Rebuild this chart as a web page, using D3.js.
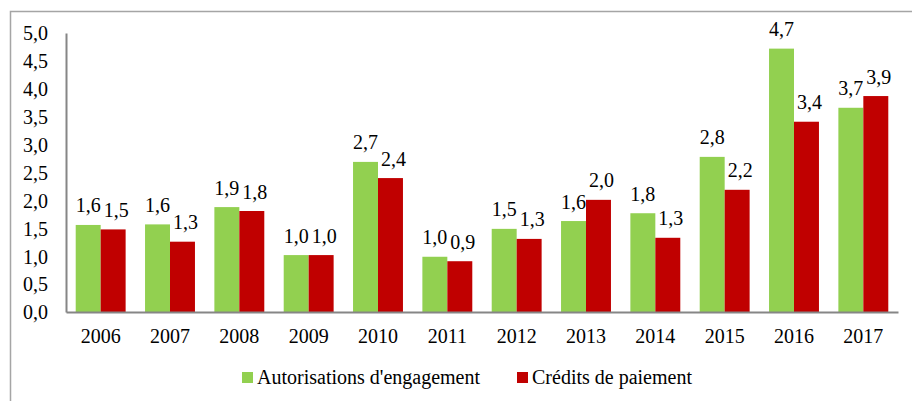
<!DOCTYPE html>
<html>
<head>
<meta charset="utf-8">
<title>Autorisations d'engagement et crédits de paiement</title>
<style>
  body { margin: 0; background: #fff; }
  svg text { font-family: "Liberation Serif", "Times New Roman", serif; fill: #000; }
</style>
<script src="https://cdn.jsdelivr.net/npm/d3@7/dist/d3.min.js"></script>
</head>
<body>
<svg id="chart" width="912" height="401"></svg>
<script>
// data
var years = ['2006', '2007', '2008', '2009', '2010', '2011', '2012', '2013', '2014', '2015', '2016', '2017'];
var autorisations = [1.56, 1.57, 1.88, 1.02, 2.69, 0.99, 1.49, 1.63, 1.77, 2.78, 4.72, 3.66];
var credits = [1.48, 1.26, 1.81, 1.02, 2.40, 0.91, 1.31, 2.01, 1.33, 2.19, 3.41, 3.87];
var yTicks = [0, 0.5, 1, 1.5, 2, 2.5, 3, 3.5, 4, 4.5, 5];
var seriesNames = ["Autorisations d'engagement", 'Crédits de paiement'];
var colors = ['#92d050', '#c00000'];

var svg = d3.select('#chart');
var fmt = function(v) { return d3.format('.1f')(v).replace('.', ','); };

// outer frame (only top and left edges are visible)
svg.append('path')
  .attr('d', 'M10.5,401 V11.5 H912')
  .attr('fill', 'none')
  .attr('stroke', '#a5a5a5')
  .attr('stroke-width', 1.5);

var plotLeft = 66, plotRight = 898, plotTop = 33, plotBottom = 312;

var x = d3.scaleBand().domain(years).range([plotLeft, plotRight]).paddingInner(0.28).paddingOuter(0.14);
var xs = d3.scaleBand().domain([0, 1]).range([0, x.bandwidth()]);
var y = d3.scaleLinear().domain([0, 5]).range([plotBottom, plotTop]);

var series = [autorisations, credits];
var labelShift = [0, 3]; // red labels sit a little right of their bars

// bars
series.forEach(function(vals, s) {
  svg.append('g').selectAll('rect')
    .data(vals)
    .enter().append('rect')
    .attr('x', function(d, i) { return x(years[i]) + xs(s); })
    .attr('width', xs.bandwidth())
    .attr('y', function(d) { return y(d); })
    .attr('height', function(d) { return y(0) - y(d); })
    .attr('fill', colors[s]);
});

// value labels
series.forEach(function(vals, s) {
  svg.append('g').selectAll('text')
    .data(vals)
    .enter().append('text')
    .attr('x', function(d, i) { return x(years[i]) + xs(s) + xs.bandwidth() / 2 + labelShift[s]; })
    .attr('y', function(d) { return y(d) - 12.5; })
    .attr('text-anchor', 'middle')
    .style('font-size', '20px')
    .text(function(d) { return fmt(d); });
});

// y axis
var yAxis = svg.append('g')
  .attr('transform', 'translate(' + plotLeft + ',0)')
  .call(d3.axisLeft(y).tickValues(yTicks).tickSize(0).tickPadding(18).tickFormat(fmt));
yAxis.select('.domain').attr('stroke', '#868686').attr('stroke-width', 2);
yAxis.selectAll('text').style('font-size', '20px').attr('dy', '0.34em');

// x axis
var xAxis = svg.append('g')
  .attr('transform', 'translate(0,' + plotBottom + ')')
  .call(d3.axisBottom(x).tickSize(0).tickPadding(17));
xAxis.select('.domain').attr('stroke', '#868686').attr('stroke-width', 2);
xAxis.selectAll('text').style('font-size', '20px');

// legend
var legendX = [242, 517];
var legend = svg.append('g');
seriesNames.forEach(function(name, s) {
  legend.append('rect')
    .attr('x', legendX[s]).attr('y', 372)
    .attr('width', 11).attr('height', 11)
    .attr('fill', colors[s]);
  legend.append('text')
    .attr('x', legendX[s] + 15).attr('y', 384)
    .style('font-size', '20px')
    .text(name);
});
</script>
</body>
</html>
